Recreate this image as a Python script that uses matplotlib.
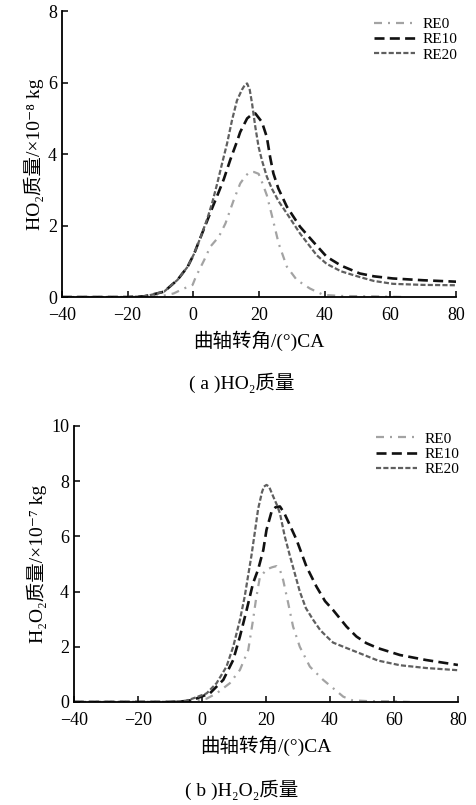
import matplotlib
matplotlib.use("Agg")
import matplotlib.pyplot as plt

plt.rcParams['font.family'] = ['Liberation Serif', 'Noto Sans CJK SC', 'DejaVu Serif']

# (a) HO2 mass, x1e-8 kg
ho2_re0_x = [-40, -20, -10, -6, -2.8, -0.2, 0.8, 3.3, 5.2, 7.8, 9.8, 12.3, 14.3, 16, 17.2, 18.5, 19.9, 21, 22.4, 23.9, 26,
             28.5, 31.5, 35.5, 39.6, 45, 55, 65]
ho2_re0_y = [0, 0, 0.02, 0.1, 0.24, 0.34, 0.57, 1.03, 1.41, 1.69, 2.06, 2.71, 3.18, 3.4, 3.5, 3.5, 3.45, 3.2, 2.85, 2.3, 1.5,
             0.85, 0.48, 0.24, 0.06, 0.03, 0.02, 0]
ho2_re10_x = [-40, -20, -15, -12.9, -8.9, -4.8, -1.7, 0.3, 2.3, 4.3, 5.8, 7.8, 9.3, 11.3, 13.3, 14.3, 16.4, 17.7, 18.9, 20.9,
              22.4, 23.4, 24.4, 25.9, 28.5, 32.5, 36.5, 40.6, 45, 50.7, 55, 60.8, 70, 80]
ho2_re10_y = [0, 0, 0.02, 0.06, 0.15, 0.48, 0.85, 1.22, 1.69, 2.15, 2.5, 2.95, 3.3, 3.85, 4.35, 4.62, 5.0, 5.1, 5.14, 4.9,
              4.48, 3.92, 3.46, 3.04, 2.53, 1.97, 1.55, 1.13, 0.88, 0.66, 0.58, 0.52, 0.47, 0.43]
ho2_re20_x = [-40, -20, -15, -12.9, -8.9, -4.8, -1.7, 0.3, 2.3, 4.3, 5.8, 7.3, 8.8, 10.3, 11.8, 13.3, 14.8, 15.8, 16.4, 17.2,
              17.9, 18.9, 19.9, 20.9, 22.4, 23.9, 26, 28.5, 32.5, 37.6, 40.6, 45, 50.7, 55, 60.8, 70, 80]
ho2_re20_y = [0, 0, 0.02, 0.06, 0.15, 0.48, 0.85, 1.22, 1.69, 2.2, 2.65, 3.18, 3.75, 4.3, 4.95, 5.5, 5.8, 5.95, 5.98, 5.8,
              5.42, 4.76, 4.2, 3.83, 3.37, 3.04, 2.68, 2.34, 1.78, 1.17, 0.93, 0.72, 0.56, 0.45, 0.37, 0.34, 0.33]

# (b) H2O2 mass, x1e-7 kg
h2o2_re0_x = [-40, -10, -2.7, 1.5, 4.6, 8.75, 11.9, 14.5, 16, 16.9, 18.1, 20.2, 22, 23.3, 24.5, 25.4, 27, 28.5, 30.6, 33.75,
              37.9, 41, 44.2, 47, 52, 60, 65]
h2o2_re0_y = [0, 0, 0.03, 0.12, 0.31, 0.68, 1.16, 1.88, 2.97, 3.7, 4.5, 4.8, 4.88, 4.92, 4.75, 4.42, 3.57, 2.73, 2.0, 1.28,
              0.8, 0.5, 0.19, 0.06, 0.03, 0.02, 0]
h2o2_re10_x = [-40, -10, -5, -2.7, 2.5, 6.7, 9.8, 11.9, 14, 16, 17.6, 19.2, 20.2, 21.8, 23, 24.4, 25.7, 27, 29.6, 32.7, 35.8,
               38.5, 41, 45.2, 48.3, 51.4, 55, 61.9, 70, 80]
h2o2_re10_y = [0, 0, 0.03, 0.08, 0.31, 0.8, 1.52, 2.37, 3.33, 4.3, 4.8, 5.5, 6.23, 6.9, 7.05, 7.08, 6.85, 6.53, 5.87, 4.9,
               4.18, 3.65, 3.33, 2.73, 2.37, 2.13, 1.95, 1.7, 1.52, 1.34]
h2o2_re20_x = [-40, -10, -5, -2.7, 1.5, 4.6, 7.7, 9.8, 11.9, 13.4, 14.5, 15.5, 16.5, 17.6, 18.8, 19.4, 20.2, 21, 22.3, 23.4,
               24.4, 25.9, 27.5, 29.6, 30.6, 32.5, 34.8, 37, 39, 41, 44.2, 49.4, 55, 61.9, 70, 80]
h2o2_re20_y = [0, 0, 0.04, 0.13, 0.31, 0.68, 1.28, 2.0, 2.97, 3.82, 4.6, 5.3, 6.1, 7.0, 7.6, 7.8, 7.86, 7.8, 7.44, 7.15,
               6.83, 6.0, 5.3, 4.42, 4.0, 3.4, 2.97, 2.6, 2.37, 2.15, 2.0, 1.76, 1.5, 1.33, 1.23, 1.15]

labels = ['RE0', 'RE10', 'RE20']
tick_x = [-40, -20, 0, 20, 40, 60, 80]

styles = [
    dict(color='#a3a3a3', lw=1.6, dashes=(3.6, 2.7, 0.9, 2.7)),
    dict(color='#111111', lw=1.9, dashes=(3.8, 2.0)),
    dict(color='#5f5f5f', lw=1.6, dashes=(2.3, 1.0)),
]

fig = plt.figure(figsize=(4.76, 8.05), dpi=100)
ax1 = fig.add_axes([0.130, 0.631, 0.828, 0.355])
ax2 = fig.add_axes([0.155, 0.128, 0.807, 0.343])


def style_axes(ax, ymax, ystep, ylabel):
    for s in ['top', 'right']:
        ax.spines[s].set_visible(False)
    for s in ['left', 'bottom']:
        ax.spines[s].set_linewidth(1.3)
    ax.set_xlim(-40, 80)
    ax.set_ylim(0, ymax)
    ax.set_xticks(tick_x)
    ax.set_yticks(list(range(0, ymax + 1, ystep)))
    ax.tick_params(direction='in', length=4, width=1.1, labelsize=13)
    ax.tick_params(axis='x', pad=7)
    ax.set_xlabel('曲轴转角/(°)CA', fontsize=14, labelpad=5)
    ax.set_ylabel(ylabel, fontsize=14, labelpad=3)
    ax.legend(loc='upper right', bbox_to_anchor=(1.02, 1.0), frameon=False,
              fontsize=11, handlelength=2.7, handletextpad=0.5,
              labelspacing=0.1, borderaxespad=0)


series1 = [(ho2_re0_x, ho2_re0_y), (ho2_re10_x, ho2_re10_y), (ho2_re20_x, ho2_re20_y)]
for (x, y), lab, st in zip(series1, labels, styles):
    ax1.plot(x, y, label=lab, **st)
style_axes(ax1, 8, 2, 'HO₂质量/×10⁻⁸ kg')

series2 = [(h2o2_re0_x, h2o2_re0_y), (h2o2_re10_x, h2o2_re10_y), (h2o2_re20_x, h2o2_re20_y)]
for (x, y), lab, st in zip(series2, labels, styles):
    ax2.plot(x, y, label=lab, **st)
style_axes(ax2, 10, 2, 'H₂O₂质量/×10⁻⁷ kg')

fig.text(0.508, 0.524, '( a )HO₂质量', ha='center', va='center', fontsize=14)
fig.text(0.508, 0.019, '( b )H₂O₂质量', ha='center', va='center', fontsize=14)

fig.savefig('out.png', dpi=100)
